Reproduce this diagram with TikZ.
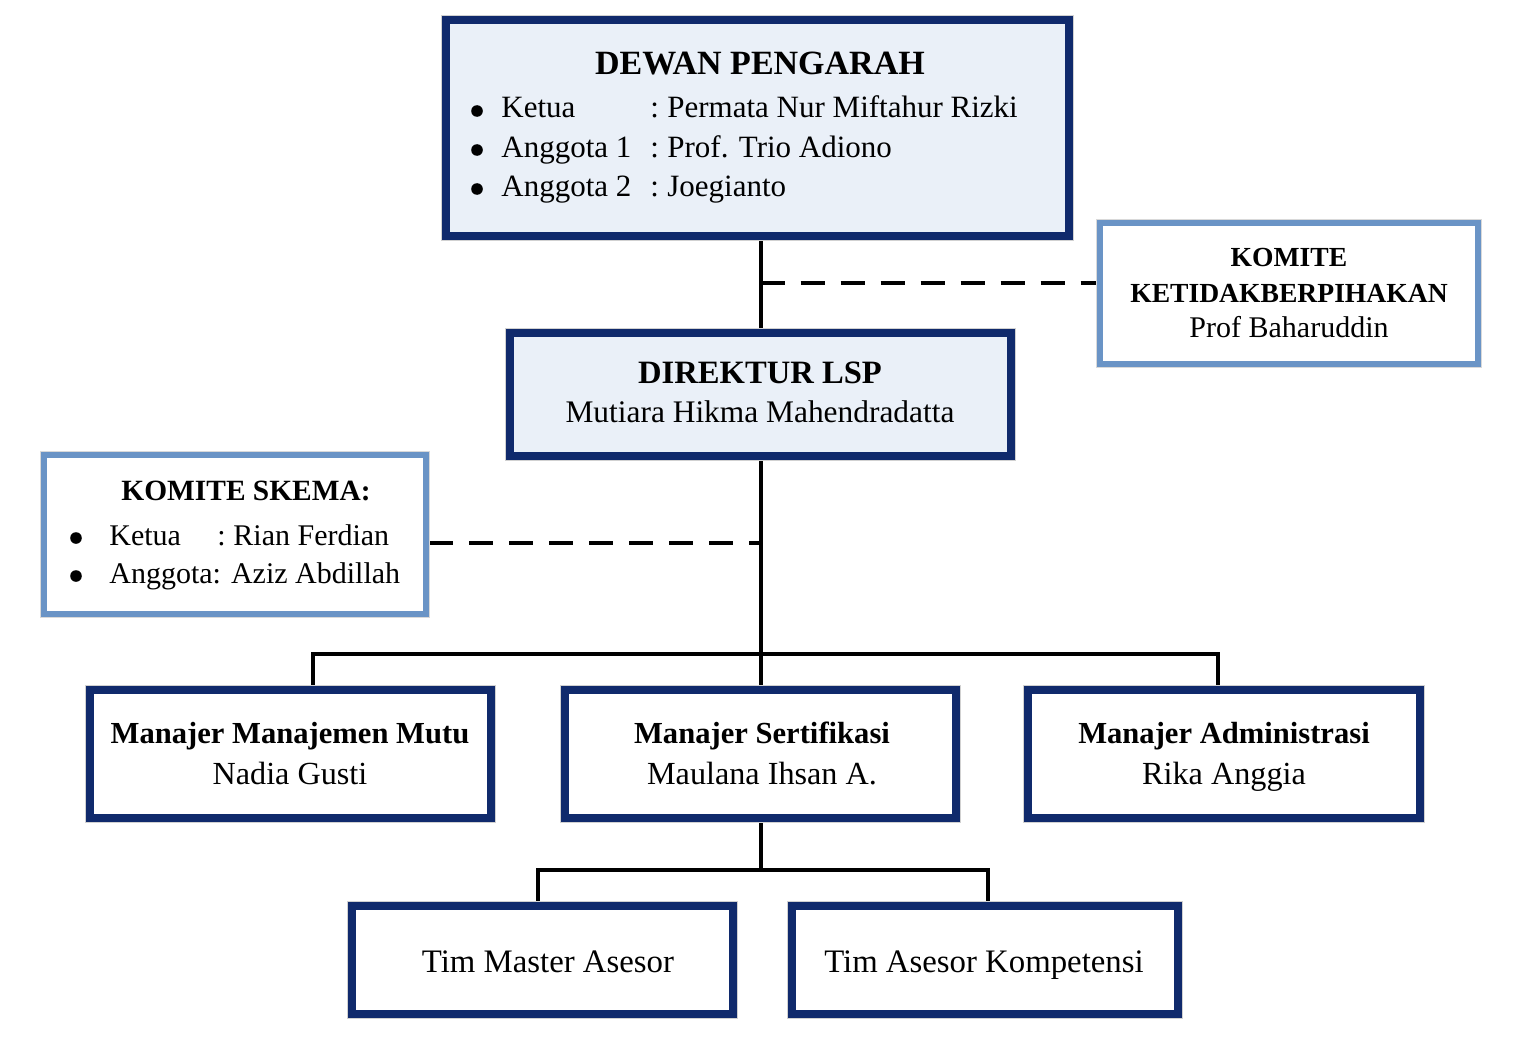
\documentclass[tikz,border=0pt]{standalone}
\usepackage{fontspec}
\setmainfont{Liberation Serif}
\usetikzlibrary{backgrounds}
\definecolor{navy}{HTML}{102A6C}
\definecolor{steel}{HTML}{6A94C6}
\definecolor{paleblue}{HTML}{EAF0F8}
\begin{document}
\begin{tikzpicture}[x=0.5pt,y=-0.5pt,
  navybox/.style={rectangle, inner sep=0pt, draw=navy, line width=4pt, fill=white,
    preaction={draw=black!18, line width=5pt}},
  steelbox/.style={rectangle, inner sep=0pt, draw=steel, line width=3pt, fill=white,
    preaction={draw=black!15, line width=4pt}},
  txt/.style={inner sep=0pt, font=\fontsize{15.5}{18}\selectfont},
  ntxt/.style={inner sep=0pt, font=\fontsize{16.1}{19}\selectfont},
  btxt/.style={inner sep=0pt, font=\fontsize{15.3}{18}\selectfont\bfseries},
  bul/.style={circle, fill=black, inner sep=0pt, minimum size=5.8pt},
  conn/.style={line width=2pt, black},
  dconn/.style={line width=2pt, black, dash pattern=on 12pt off 8pt}]
\useasboundingbox (0,0) rectangle (1515,1038);

% boxes
\node[navybox, fill=paleblue, minimum width=311.5pt, minimum height=108pt] (dewan) at (757.5,128) {};
\node[steelbox, minimum width=189pt, minimum height=70.5pt] (komk) at (1289,293.5) {};
\node[navybox, fill=paleblue, minimum width=250.5pt, minimum height=61.5pt] (direktur) at (760.5,394.5) {};
\node[steelbox, minimum width=191pt, minimum height=79.5pt] (komsk) at (235,534.5) {};
\node[navybox, minimum width=200.5pt, minimum height=64pt] (mm) at (290.5,754) {};
\node[navybox, minimum width=195.5pt, minimum height=64pt] (ms) at (760.5,754) {};
\node[navybox, minimum width=196pt, minimum height=64pt] (ma) at (1224,754) {};
\node[navybox, minimum width=190.5pt, minimum height=54pt] (tm) at (542.5,960) {};
\node[navybox, minimum width=193pt, minimum height=54pt] (ta) at (985,960) {};

% connectors
\coordinate (jk) at (760.5,283);
\coordinate (js) at (760.5,543);
\coordinate (barL) at (313,654);
\coordinate (barR) at (1218,654);
\coordinate (bar2) at (760.5,870);
\coordinate (bar2L) at (538,870);
\coordinate (bar2R) at (988,870);
\begin{scope}[on background layer]
\fill[white] (0,0) rectangle (1515,1038);
\draw[conn] (dewan.south -| direktur.north) -- (direktur.north);
\draw[dconn] (jk) -- (jk -| komk.west);
\draw[conn] (direktur.south) -- (ms.north);
\draw[dconn] (js -| komsk.east) -- (js);
\draw[conn] (barL |- mm.north) -- (barL) -- (barR) -- (barR |- ma.north);
\draw[conn] (ms.south) -- (bar2);
\draw[conn] (bar2L |- tm.north) -- (bar2L) -- (bar2R) -- (bar2R |- ta.north);
\end{scope}

% Dewan text
\node[btxt, font=\fontsize{17}{20}\selectfont\bfseries, anchor=base] (dt) at (760,75) {DEWAN PENGARAH};
\node[bul] (db1) at (477,111) {};
\node[bul] (db2) at (477,150) {};
\node[bul] (db3) at (477,189) {};
\node[txt, anchor=base west] (dk1) at (501,118) {Ketua};
\node[txt, anchor=base west] (dk2) at (501,157) {Anggota 1};
\node[txt, anchor=base west] (dk3) at (501,196) {Anggota 2};
\node[txt, anchor=base west] (dc1) at (650,118) {:};
\node[txt, anchor=base west] (dc2) at (650,157) {:};
\node[txt, anchor=base west] (dc3) at (650,196) {:};
\node[txt, anchor=base west] (dv1) at (667,118) {Permata Nur Miftahur Rizki};
\node[txt, anchor=base west] (dv2) at (667,157) {Prof. Trio Adiono};
\node[txt, anchor=base west] (dv3) at (667,196) {Joegianto};

% Komite Ketidakberpihakan
\node[btxt, font=\fontsize{13.8}{16}\selectfont\bfseries, anchor=base] (kk1) at (1289,266) {KOMITE};
\node[btxt, font=\fontsize{13.8}{16}\selectfont\bfseries, anchor=base] (kk2) at (1289,302) {KETIDAKBERPIHAKAN};
\node[txt, font=\fontsize{15}{18}\selectfont, anchor=base] (kk3) at (1289,337) {Prof Baharuddin};

% Direktur
\node[btxt, font=\fontsize{16.3}{19}\selectfont\bfseries, anchor=base] (dr1) at (760,383) {DIREKTUR LSP};
\node[txt, font=\fontsize{15.7}{19}\selectfont, anchor=base] (dr2) at (760,422) {Mutiara Hikma Mahendradatta};

% Komite Skema
\node[btxt, font=\fontsize{14.7}{17}\selectfont\bfseries, anchor=base] (ks) at (246,500) {KOMITE SKEMA:};
\node[bul] (kb1) at (76,538) {};
\node[bul] (kb2) at (76,576) {};
\node[txt, font=\fontsize{15}{18}\selectfont, anchor=base west] (kt1) at (109,545) {Ketua};
\node[txt, font=\fontsize{15}{18}\selectfont, anchor=base west] (kc1) at (217,545) {:};
\node[txt, font=\fontsize{15}{18}\selectfont, anchor=base west] (kv1) at (233,545) {Rian Ferdian};
\node[txt, font=\fontsize{15}{18}\selectfont, anchor=base west] (kt2) at (109,583) {Anggota: Aziz Abdillah};

% Managers
\node[btxt, anchor=base] (mm1) at (290,743) {Manajer Manajemen Mutu};
\node[ntxt, anchor=base] (mm2) at (290,784) {Nadia Gusti};
\node[btxt, anchor=base] (ms1) at (762,743) {Manajer Sertifikasi};
\node[ntxt, anchor=base] (ms2) at (762,784) {Maulana Ihsan A.};
\node[btxt, anchor=base] (ma1) at (1224,743) {Manajer Administrasi};
\node[ntxt, anchor=base] (ma2) at (1224,784) {Rika Anggia};

% Tim
\node[ntxt, font=\fontsize{16.4}{19}\selectfont, anchor=base] (tm1) at (548,972) {Tim Master Asesor};
\node[ntxt, font=\fontsize{16.4}{19}\selectfont, anchor=base] (ta1) at (984,972) {Tim Asesor Kompetensi};
\end{tikzpicture}
\end{document}
